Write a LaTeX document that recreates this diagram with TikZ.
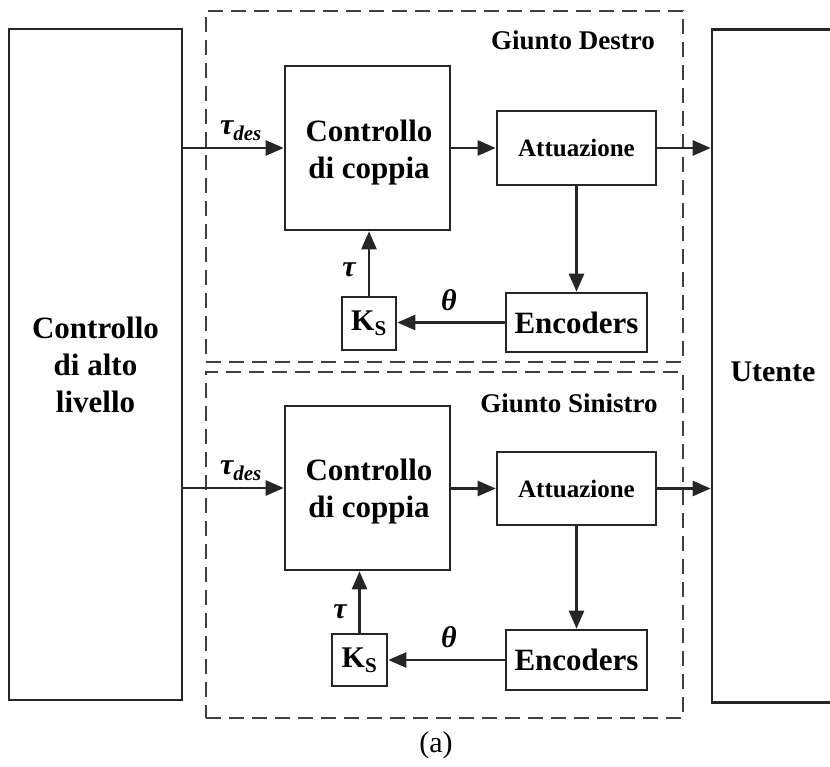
\documentclass[tikz,border=0pt]{standalone}
\usepackage{fontspec}
\setmainfont{Liberation Serif}
\usetikzlibrary{arrows.meta}
\begin{document}
\begin{tikzpicture}[x=1pt,y=-1pt,
  box/.style={draw=black!85,line width=2.6pt,rectangle,inner sep=0pt,align=center,font=\bfseries\fontsize{31}{37}\selectfont},
  grp/.style={draw=black!75,line width=2.6pt,rectangle,inner sep=0pt,dash pattern=on 15pt off 8pt},
  arr/.style={line width=2.6pt,draw=black!85,-{Triangle[length=18pt,width=15pt]}},
  lab/.style={inner sep=0pt,font=\bfseries\itshape\fontsize{30}{32}\selectfont},
  ttl/.style={inner sep=0pt,font=\bfseries\fontsize{27}{30}\selectfont}]
\useasboundingbox (0,0) rectangle (830,767);
\clip (0,0) rectangle (830,767);
% big boxes
\node[box,minimum width=173pt,minimum height=671pt] (hl) at (95.5,364.5) {Controllo\\di alto\\livello};
\node[box,minimum width=168pt,minimum height=673pt] (ut) at (796,366) {};
\node[inner sep=0pt,font=\bfseries\fontsize{30}{36}\selectfont] (utl) at (773,372) {Utente};
% top joint
\node[grp,minimum width=477pt,minimum height=351pt] (g1) at (444.5,186.5) {};
\node[ttl] (g1l) at (573,40) {Giunto Destro};
\node[box,minimum width=165pt,minimum height=164pt] (cc1) at (367.5,148) {};
\node[box,draw=none] (cc1t) at (369,153) {Controllo\\di coppia};
\node[box,minimum width=159pt,minimum height=74pt,font=\bfseries\fontsize{25}{30}\selectfont] (at1) at (576.5,148) {Attuazione};
\node[box,minimum width=141pt,minimum height=59pt] (en1) at (576.5,322.5) {Encoders};
\node[box,minimum width=54pt,minimum height=53pt,font=\bfseries\fontsize{30}{36}\selectfont] (ks1) at (369,323.5) {K\textsubscript{S}};
\draw[arr] (hl.east |- cc1.west) -- (cc1.west);
\draw[arr] (cc1.east |- at1.west) -- (at1.west);
\draw[arr] (at1.east) -- (at1.east -| ut.west);
\draw[arr] (at1.south) -- (en1.north);
\draw[arr] (en1.west) -- (en1.west -| ks1.east);
\draw[arr] (ks1.north) -- (ks1.north |- cc1.south);
\node[lab] (td1) at (241,131) {τ\textsubscript{des}};
\node[lab] (t1) at (349,270) {τ};
\node[lab] (th1) at (449,300) {θ};
% bottom joint
\node[grp,minimum width=477pt,minimum height=346pt] (g2) at (444.5,545) {};
\node[ttl] (g2l) at (569,403) {Giunto Sinistro};
\node[box,minimum width=165pt,minimum height=164pt] (cc2) at (367.5,488) {};
\node[box,draw=none] (cc2t) at (369,492) {Controllo\\di coppia};
\node[box,minimum width=159pt,minimum height=73pt,font=\bfseries\fontsize{25}{30}\selectfont] (at2) at (576.5,488.5) {Attuazione};
\node[box,minimum width=141pt,minimum height=60pt] (en2) at (576.5,660) {Encoders};
\node[box,minimum width=55pt,minimum height=52pt,font=\bfseries\fontsize{30}{36}\selectfont] (ks2) at (359.5,660) {K\textsubscript{S}};
\draw[arr] (hl.east |- cc2.west) -- (cc2.west);
\draw[arr] (cc2.east |- at2.west) -- (at2.west);
\draw[arr] (at2.east) -- (at2.east -| ut.west);
\draw[arr] (at2.south) -- (en2.north);
\draw[arr] (en2.west) -- (en2.west -| ks2.east);
\draw[arr] (ks2.north) -- (ks2.north |- cc2.south);
\node[lab] (td2) at (241,471) {τ\textsubscript{des}};
\node[lab] (t2) at (340,612) {τ};
\node[lab] (th2) at (449,637) {θ};
\node[inner sep=0pt,font=\fontsize{30}{32}\selectfont] (cap) at (436,745) {(a)};
\end{tikzpicture}
\end{document}
